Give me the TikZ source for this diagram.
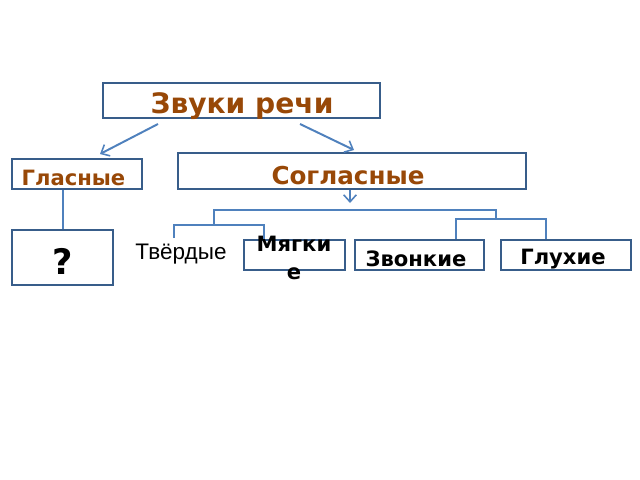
\documentclass[tikz,border=0pt]{standalone}
\usepackage{fontspec}
\setmainfont{DejaVu Sans}
\newfontfamily\arialf{Liberation Sans}
\usetikzlibrary{arrows.meta}
\definecolor{brn}{RGB}{152,72,7}
\definecolor{lnc}{RGB}{79,129,189}
\definecolor{bxc}{RGB}{56,93,138}
\newlength{\pxl}
\setlength{\pxl}{0.025cm}
\begin{document}
\begin{tikzpicture}[x=0.025cm,y=-0.025cm,
  bx/.style={draw=bxc,line width=1.3pt,fill=white,inner sep=0pt,rectangle},
  lbl/.style={inner sep=0pt},
  ttl/.style={lbl,text=brn},
  blk/.style={lbl,text=black},
  ln/.style={draw=lnc,line width=1.4pt},
  arr/.style={ln,-{Straight Barb[length=5pt,width=9pt,line width=1.1pt]}}]
\useasboundingbox[fill=white] (0,0) rectangle (640,480);
% boxes
\node[bx,minimum width=277\pxl,minimum height=35\pxl] (zvuki) at (241.5,100.5) {};
\node[ttl,font=\fontsize{20}{24}\selectfont\bfseries] (zvukit) at (242,106) {Звуки речи};
\node[bx,minimum width=130\pxl,minimum height=30\pxl] (glas) at (77,174) {};
\node[ttl,font=\fontsize{15}{18}\selectfont\bfseries] (glast) at (73.5,178) {Гласные};
\node[bx,minimum width=348\pxl,minimum height=36\pxl] (sogl) at (352,171) {};
\node[ttl,font=\fontsize{17.5}{20}\selectfont\bfseries] (soglt) at (348,176) {Согласные};
\node[bx,minimum width=101\pxl,minimum height=55\pxl] (q) at (62.5,257.5) {};
\node[blk,font=\fontsize{25}{28}\selectfont\bfseries] (qt) at (63,261) {?};
\node[lbl,font=\arialf\fontsize{16}{19}\selectfont] (tverd) at (181,254) {Твёрдые};
\node[bx,minimum width=101\pxl,minimum height=30\pxl] (myag) at (294.5,255) {};
\node[blk,font=\fontsize{15}{19.5}\selectfont\bfseries,align=center] (myagt) at (294,258) {Мягки\\е};
\node[bx,minimum width=129\pxl,minimum height=30\pxl] (zvon) at (419.5,255) {};
\node[blk,font=\fontsize{15}{18}\selectfont\bfseries] (zvont) at (416,259) {Звонкие};
\node[bx,minimum width=130\pxl,minimum height=30\pxl] (gluh) at (566,255) {};
\node[blk,font=\fontsize{15}{18}\selectfont\bfseries] (gluht) at (563,259) {Глухие};
% connectors
\coordinate (z1) at (158,124);
\coordinate (z2) at (300,124);
\coordinate (g1) at (100,154);
\coordinate (s1) at (354,150);
\draw[arr] (z1) -- (g1);
\draw[arr] (z2) -- (s1);
\coordinate (sa) at (350,190);
\coordinate (sb) at (350,203);
\draw[arr] (sa) -- (sb);
\coordinate (gq) at (63,200);
\draw[ln] (glas.south -| gq) -- (q.north -| gq);
\coordinate (b1) at (214,225);
\coordinate (b2) at (496,210);
\coordinate (b3) at (496,219);
\draw[ln] (b1) |- (b2) -- (b3);
\coordinate (t1) at (174,238);
\coordinate (m1) at (264,225);
\draw[ln] (t1) |- (m1) -- (m1 |- myag.north);
\coordinate (v1) at (456,219);
\coordinate (v2) at (546,219);
\draw[ln] (v1 |- zvon.north) -- (v1) -- (v2) -- (v2 |- gluh.north);
\end{tikzpicture}
\end{document}
